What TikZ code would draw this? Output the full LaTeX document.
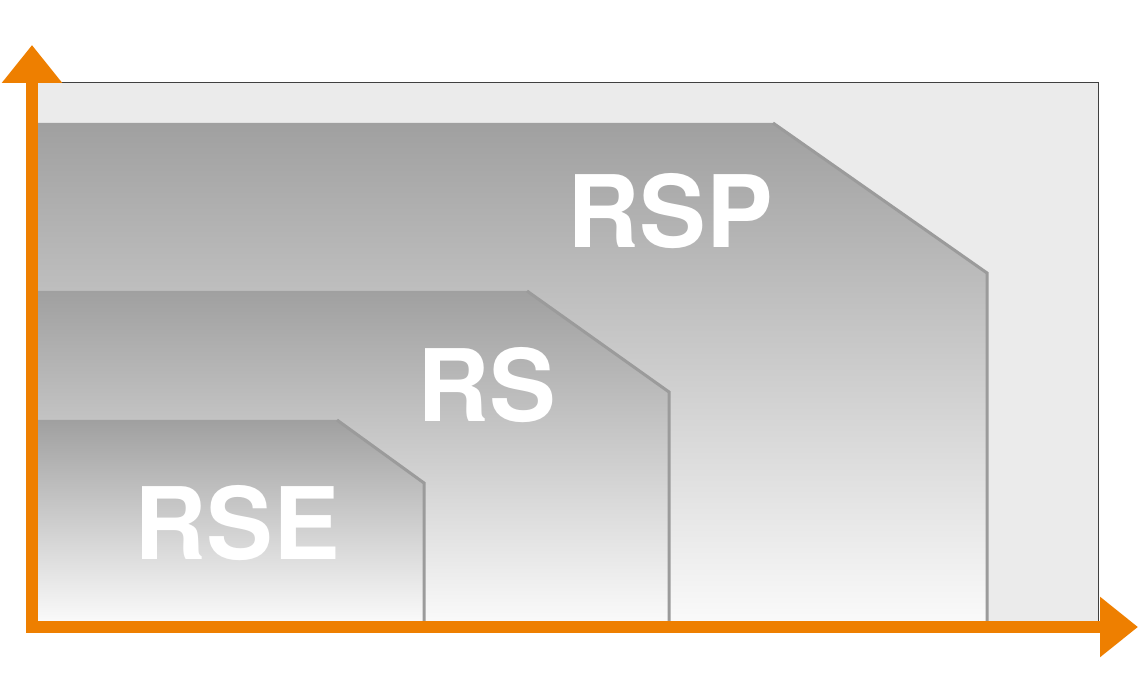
\documentclass[tikz,border=0pt]{standalone}
\usepackage{fontspec}
\setmainfont{TeX Gyre Heros}
\usetikzlibrary{arrows.meta}
\definecolor{axisorange}{RGB}{238,127,0}
\definecolor{backgray}{RGB}{235,235,235}
\definecolor{edgegray}{RGB}{155,155,155}
\definecolor{toptone}{RGB}{160,160,160}
\definecolor{bottone}{RGB}{250,250,250}

\begin{document}
\begin{tikzpicture}[x=1pt,y=1pt,
    axisline/.style={draw=axisorange,line width=12pt,
      {Triangle[width=58pt,length=38pt]}-{Triangle[width=58pt,length=38pt]}},
    panel/.style={top color=toptone,bottom color=bottone},
    edge/.style={draw=edgegray,line width=3pt},
    tag/.style={text=white,inner sep=0pt,
      font=\fontsize{100}{100}\selectfont\bfseries}]
            \useasboundingbox (0,0) rectangle (1140,700);
            % light field behind the classes
            \fill[backgray] (38,78) rectangle (1098,617);
            \draw[black!75,line width=1pt] (38,617) -- (1098,617) -- (1098,73);
            % RSP
            \shade[panel] (38,78) -- (38,577) -- (773,577) -- (987,427) -- (987,78) -- cycle;
            \draw[edge] (773,577) -- (987,427) -- (987,78);
            \node[tag] (rsp) at (670,489) {RSP};
            % RS
            \shade[panel] (38,78) -- (38,409) -- (527,409) -- (669,308) -- (669,78) -- cycle;
            \draw[edge] (527,409) -- (669,308) -- (669,78);
            \node[tag] (rs) at (487,315) {RS};
            % RSE
            \shade[panel] (38,78) -- (38,280) -- (337,280) -- (424,217) -- (424,78) -- cycle;
            \draw[edge] (337,280) -- (424,217) -- (424,78);
            \node[tag] (rse) at (237,177) {RSE};
            % axes
            \coordinate (ytip) at (32,655);
            \coordinate (xtip) at (1138,73);
            \draw[axisline] (ytip) |- (xtip);
        \end{tikzpicture}
\end{document}
